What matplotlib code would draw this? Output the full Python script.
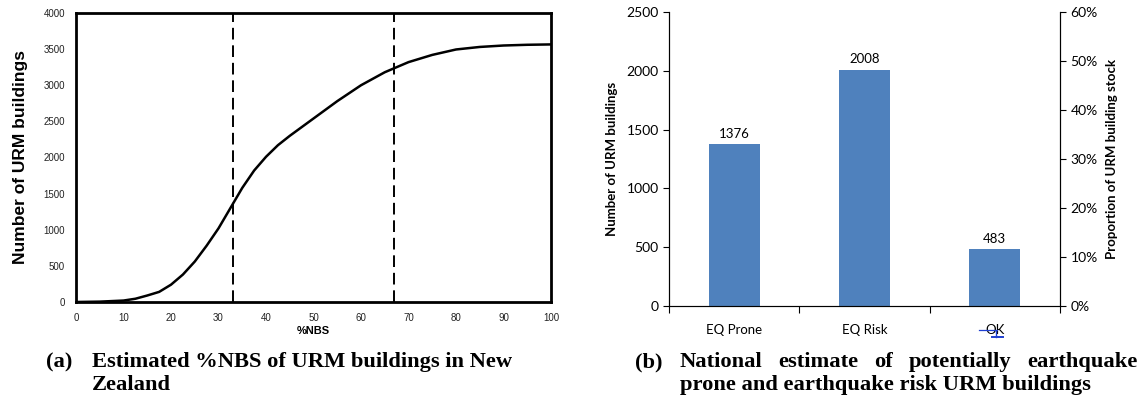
import matplotlib
matplotlib.use("Agg")
import matplotlib.pyplot as plt
from matplotlib.ticker import FuncFormatter

# ── data ──────────────────────────────────────────────────────────────
nbs_pct = [0, 5, 10, 12.5, 15, 17.5, 20, 22.5, 25, 27.5, 30, 32.5, 35, 37.5,
           40, 42.5, 45, 50, 55, 60, 65, 70, 75, 80, 85, 90, 95, 100]
n_urm = [0, 5, 20, 45, 90, 140, 240, 380, 560, 780, 1020, 1300, 1580, 1820,
         2010, 2170, 2300, 2540, 2780, 3000, 3180, 3320, 3420, 3495, 3530,
         3550, 3560, 3565]
thresholds = [33, 67]

categories = ["EQ Prone", "EQ Risk", "OK"]
counts = [1376, 2008, 483]

caption_a = ["(a)", "Estimated %NBS of URM buildings in New", "Zealand"]
caption_b = ["(b)", "National estimate of potentially earthquake",
             "prone and earthquake risk URM buildings"]

BAR_COLOR = "#4F81BD"
SANS = ["Lato", "DejaVu Sans"]
SERIF = "Liberation Serif"

fig = plt.figure(figsize=(11.47, 4.01), dpi=100)

# ── (a) cumulative curve ─────────────────────────────────────────────
ax1 = fig.add_axes([0.0663, 0.2469, 0.4141, 0.7207])
ax1.plot(nbs_pct, n_urm, color="black", linewidth=1.8)
for t in thresholds:
    ax1.axvline(t, color="black", linestyle=(0, (6, 3)), linewidth=1.4)
ax1.set_xlim(0, 100)
ax1.set_ylim(0, 4000)
ax1.set_xticks(range(0, 101, 10))
ax1.set_yticks(range(0, 4001, 500))
for s in ax1.spines.values():
    s.set_linewidth(2)
ax1.tick_params(length=0, pad=8, labelsize=7, labelcolor="#222222")
for lab in ax1.get_xticklabels() + ax1.get_yticklabels():
    lab.set_family("Liberation Sans")
ax1.set_xlabel("%NBS", fontsize=8, fontweight="bold",
               family="Liberation Sans", labelpad=2)
ax1.set_ylabel("Number of URM buildings", fontsize=12.5, fontweight="bold",
               family="Liberation Sans", labelpad=11)

# ── (b) bar chart ────────────────────────────────────────────────────
ax2 = fig.add_axes([0.5833, 0.2369, 0.3409, 0.733])
bars = ax2.bar(range(len(categories)), counts, width=0.39, color=BAR_COLOR)
for b, v in zip(bars, counts):
    ax2.text(b.get_x() + b.get_width() / 2, v + 40, str(v), ha="center",
             va="bottom", fontsize=9.5, family=SANS)
ax2.set_xlim(-0.5, len(categories) - 0.5)
ax2.set_ylim(0, 2500)
ax2.set_yticks(range(0, 2501, 500))
ax2.set_xticks([i - 0.5 for i in range(len(categories) + 1)], minor=False)
ax2.set_xticklabels([])
ax2.set_xticks(range(len(categories)), minor=True)
ax2.set_xticklabels(categories, minor=True, fontsize=9.5, family=SANS)
ax2.tick_params(axis="x", which="major", direction="out", length=5)
ax2.tick_params(axis="x", which="minor", length=0, pad=13)
ax2.tick_params(axis="y", direction="out", length=4, labelsize=10)
for lab in ax2.get_yticklabels():
    lab.set_family(SANS)
ax2.spines["top"].set_visible(False)
ax2.spines["bottom"].set_color("#555555")
ax2.set_ylabel("Number of URM buildings", fontsize=9.5, fontweight="bold",
               family=SANS, labelpad=6)

ax3 = ax2.twinx()
ax3.set_ylim(0, 0.6)
ax3.set_yticks([i / 10 for i in range(7)])
ax3.yaxis.set_major_formatter(FuncFormatter(lambda v, _: f"{v:.0%}"))
ax3.tick_params(axis="y", direction="out", length=4, labelsize=10)
for lab in ax3.get_yticklabels():
    lab.set_family(SANS)
ax3.spines["top"].set_visible(False)
ax3.set_ylabel("Proportion of URM building stock", fontsize=9.5,
               fontweight="bold", family=SANS, rotation=90, labelpad=6)

# blue strike mark over "OK"
xt = ax2.get_xaxis_transform()
ax2.plot([1.88, 2.02], [-0.082, -0.082], transform=xt,
         color="#1F3FD0", linewidth=0.9, clip_on=False)
ax2.plot([2.01, 2.01], [-0.085, -0.105], transform=xt,
         color="#1F3FD0", linewidth=1.0, clip_on=False)
ax2.plot([1.98, 2.06], [-0.105, -0.105], transform=xt,
         color="#1F3FD0", linewidth=1.4, clip_on=False)

# ── captions ─────────────────────────────────────────────────────────
cap_kw = dict(fontsize=16.2, fontweight="bold", family=SERIF, va="baseline")
W, H = 1147, 401


def justify(words, x0, x1, y):
    """Place words spread evenly between x0 and x1 (pixel coords)."""
    fig.canvas.draw()
    r = fig.canvas.get_renderer()
    ts = [fig.text(0, 1 - y / H, w, **cap_kw) for w in words]
    widths = [t.get_window_extent(r).width for t in ts]
    gap = (x1 - x0 - sum(widths)) / max(len(words) - 1, 1)
    x = x0
    for t, w in zip(ts, widths):
        t.set_x(x / W)
        x += w + gap


fig.text(46 / W, 1 - 367 / H, caption_a[0], **cap_kw)
fig.text(92 / W, 1 - 367 / H, caption_a[1], **cap_kw)
fig.text(92 / W, 1 - 390 / H, caption_a[2], **cap_kw)

fig.text(635 / W, 1 - 367 / H, caption_b[0], **cap_kw)
justify(caption_b[1].split(), 680, 1138, 367)
fig.text(680 / W, 1 - 390 / H, caption_b[2], **cap_kw)

fig.savefig("out.png", dpi=100)
